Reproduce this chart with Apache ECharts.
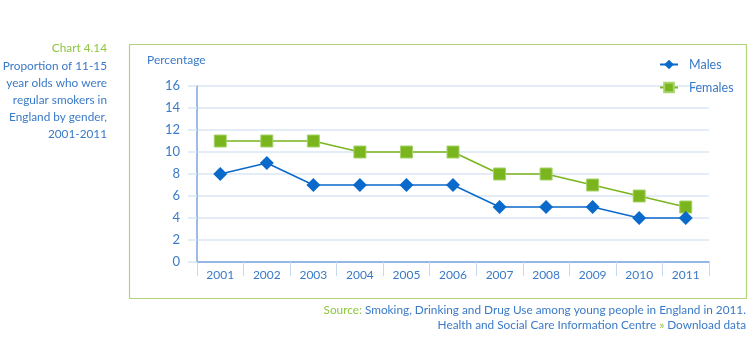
<!DOCTYPE html>
<html>
<head>
<meta charset="utf-8">
<script src="https://cdn.jsdelivr.net/npm/echarts@6/dist/echarts.min.js"></script>
<style>
html, body { margin: 0; padding: 0; background: #fff; }
#chart { width: 754px; height: 340px; }
</style>
</head>
<body>
<div id="chart"></div>
<script>
// Regular smokers aged 11-15, England, by gender (%)
const years = ['2001', '2002', '2003', '2004', '2005', '2006', '2007', '2008', '2009', '2010', '2011'];
const males = [8, 9, 7, 7, 7, 7, 5, 5, 5, 4, 4];
const females = [11, 11, 11, 10, 10, 10, 8, 8, 7, 6, 5];
const yTicks = { min: 0, max: 16, interval: 2 };

const BLUE = '#0a6acb';
const GREEN = '#7ab51d';
const TEXT = '#3a7ac8';
const LIGHT = '#dbe6f6';
const FONT = 'Lato, "Open Sans", sans-serif';
const SMALL = '11.8px ' + FONT;

const chart = echarts.init(document.getElementById('chart'), null, { renderer: 'canvas' });

chart.setOption({
  animation: false,
  textStyle: { fontFamily: FONT },
  grid: { left: 197, right: 45, top: 86, bottom: 78 },
  legend: {
    orient: 'vertical',
    left: 654,
    top: 53,
    itemWidth: 18,
    itemHeight: 12,
    itemGap: 10,
    textStyle: { color: TEXT, fontSize: 12.5, fontFamily: FONT, padding: [0, 0, 0, 6] },
    data: ['Males', 'Females']
  },
  xAxis: {
    type: 'category',
    data: years,
    boundaryGap: true,
    axisLine: { lineStyle: { color: '#7aa6dc', width: 1.5 } },
    axisTick: { show: true, length: 14, lineStyle: { color: '#c9d9ef' } },
    axisLabel: { color: TEXT, fontSize: 12, margin: 7, fontFamily: FONT },
    splitLine: { show: false }
  },
  yAxis: {
    type: 'value',
    min: yTicks.min,
    max: yTicks.max,
    interval: yTicks.interval,
    axisLine: { show: true, lineStyle: { color: '#7aa6dc', width: 1.5 } },
    axisTick: { show: true, length: 9, lineStyle: { color: LIGHT, width: 1.5 } },
    axisLabel: { color: TEXT, fontSize: 13, margin: 17, fontFamily: FONT },
    splitLine: { show: true, lineStyle: { color: LIGHT, width: 1.5 } }
  },
  series: [
    {
      name: 'Males',
      type: 'line',
      data: males,
      symbol: 'diamond',
      symbolSize: 14,
      itemStyle: { color: BLUE },
      lineStyle: { color: BLUE, width: 1.5 },
      z: 3
    },
    {
      name: 'Females',
      type: 'line',
      data: females,
      symbol: 'rect',
      symbolSize: 12,
      itemStyle: { color: GREEN, borderColor: '#a6d36a', borderWidth: 1 },
      lineStyle: { color: GREEN, width: 1.5 },
      z: 2
    }
  ],
  graphic: [
    {
      type: 'rect',
      shape: { x: 129.5, y: 44.5, width: 617, height: 254 },
      style: { fill: 'none', stroke: '#b2d57c', lineWidth: 1.2 },
      silent: true,
      z: -1
    },
    {
      type: 'text',
      x: 147, y: 54,
      style: { text: 'Percentage', fill: TEXT, font: '12px ' + FONT }
    },
    {
      type: 'text',
      x: 107, y: 42,
      style: { text: 'Chart 4.14', fill: '#8dc63f', font: SMALL, align: 'right' }
    },
    {
      type: 'text',
      x: 107, y: 58,
      style: {
        text: 'Proportion of 11-15\nyear olds who were\nregular smokers in\nEngland by gender,\n2001-2011',
        fill: TEXT,
        font: SMALL,
        align: 'right',
        lineHeight: 17
      }
    },
    {
      type: 'text',
      x: 746, y: 304,
      style: {
        rich: {
          g: { fill: '#8dc63f', font: SMALL },
          b: { fill: TEXT, font: SMALL }
        },
        text: '{g|Source: }{b|Smoking, Drinking and Drug Use among young people in England in 2011.}',
        align: 'right'
      }
    },
    {
      type: 'text',
      x: 746, y: 319,
      style: {
        rich: {
          g: { fill: '#8dc63f', font: SMALL },
          b: { fill: TEXT, font: SMALL }
        },
        text: '{b|Health and Social Care Information Centre }{g|» }{b|Download data}',
        align: 'right'
      }
    }
  ]
});
</script>
</body>
</html>
